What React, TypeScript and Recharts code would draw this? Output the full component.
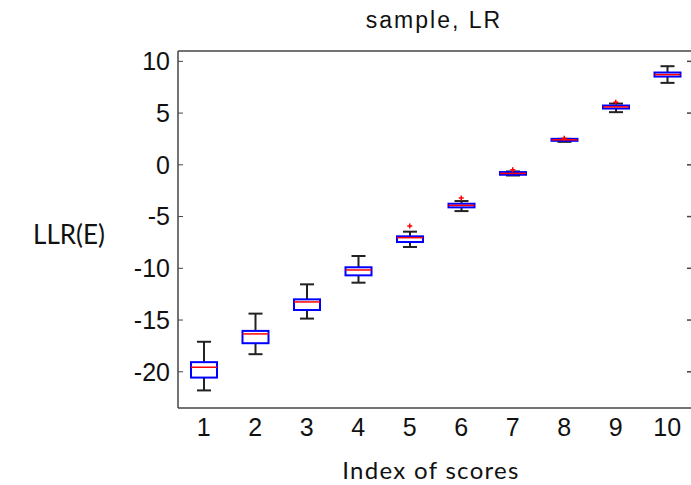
import { Bar, ComposedChart, ReferenceLine, Scatter, XAxis, YAxis } from 'recharts';

// score index on the x axis
const categories = ['1', '2', '3', '4', '5', '6', '7', '8', '9', '10'];

// box plot stats
const whiskerLow = [-21.8, -18.3, -14.86, -11.39, -7.94, -4.47, -1.03, 2.22, 5.09, 7.92];
const q1 = [-20.56, -17.24, -14.03, -10.68, -7.46, -4.11, -0.96, 2.32, 5.44, 8.53];
const median = [-19.56, -16.34, -13.25, -10.16, -7.04, -3.92, -0.83, 2.42, 5.6, 8.72];
const q3 = [-19.07, -16.05, -13.0, -9.9, -6.91, -3.76, -0.7, 2.51, 5.73, 8.92];
const whiskerHigh = [-17.1, -14.38, -11.55, -8.81, -6.46, -3.5, -0.64, 2.51, 5.92, 9.53];
const outliers: (number | null)[] = [null, null, null, null, -5.92, -3.21, -0.48, 2.58, 6.05, null];

const yTicks = [-20, -15, -10, -5, 0, 5, 10];
const Y_DOMAIN: [number, number] = [-23.5, 11];

const rows = categories.map((idx, i) => ({
  idx,
  lo: whiskerLow[i],
  q1: q1[i],
  med: median[i],
  q3: q3[i],
  hi: whiskerHigh[i],
  outlier: outliers[i],
}));

const AXIS = '#444';
const TICK_FONT = { fontFamily: '"Liberation Sans", Arial, sans-serif', fontSize: 25, fill: '#111' };

function BoxShape(props: any) {
  const { x, y, width, height, payload } = props;
  if (!payload) return null;
  const top = Math.min(y, y + height);
  const h = Math.abs(height);
  const span = payload.hi - payload.lo || 1;
  // value -> pixel, using the bar's own [lo, hi] extent
  const py = (v: number) => top + ((payload.hi - v) / span) * h;
  const cx = x + width / 2;
  const cap = 7;
  return (
    <g>
      <line x1={cx} x2={cx} y1={py(payload.hi)} y2={py(payload.q3)} stroke="#222" strokeWidth={2} />
      <line x1={cx} x2={cx} y1={py(payload.q1)} y2={py(payload.lo)} stroke="#222" strokeWidth={2} />
      <line x1={cx - cap} x2={cx + cap} y1={py(payload.hi)} y2={py(payload.hi)} stroke="#222" strokeWidth={2} />
      <line x1={cx - cap} x2={cx + cap} y1={py(payload.lo)} y2={py(payload.lo)} stroke="#222" strokeWidth={2} />
      <rect
        x={x}
        y={py(payload.q3)}
        width={width}
        height={Math.max(py(payload.q1) - py(payload.q3), 1)}
        fill="none"
        stroke="#0000ff"
        strokeWidth={2}
      />
      <line x1={x} x2={x + width} y1={py(payload.med)} y2={py(payload.med)} stroke="#ff0000" strokeWidth={1.5} />
    </g>
  );
}

function PlusShape(props: any) {
  const { cx, cy, payload } = props;
  if (!payload || payload.outlier == null || !Number.isFinite(cy)) return null;
  const s = 2.5;
  return (
    <g stroke="#ff0000" strokeWidth={1.5}>
      <line x1={cx - s} x2={cx + s} y1={cy} y2={cy} />
      <line x1={cx} x2={cx} y1={cy - s} y2={cy + s} />
    </g>
  );
}

const NoLabel = () => <g />;

export default function App() {
  return (
    <div style={{ position: 'fixed', left: 0, top: 0, width: 691, height: 485, overflow: 'hidden', background: '#fff' }}>
      <ComposedChart width={700} height={485} data={rows} margin={{ top: 51, right: 0, bottom: 0, left: 0 }}>
        <XAxis
          dataKey="idx"
          type="category"
          height={77}
          axisLine={{ stroke: AXIS, strokeWidth: 1.5 }}
          tickLine={false}
          tickSize={0}
          tickMargin={10}
          tick={TICK_FONT}
          interval={0}
        />
        <YAxis
          yAxisId="l"
          type="number"
          width={178}
          domain={Y_DOMAIN}
          ticks={yTicks}
          allowDataOverflow
          axisLine={{ stroke: AXIS, strokeWidth: 1.5 }}
          tickLine={{ stroke: AXIS }}
          tickSize={-5}
          tickMargin={13}
          tick={TICK_FONT}
        />
        <YAxis
          yAxisId="r"
          orientation="right"
          type="number"
          width={7}
          domain={Y_DOMAIN}
          ticks={yTicks}
          allowDataOverflow
          axisLine={{ stroke: AXIS, strokeWidth: 1.5 }}
          tickLine={{ stroke: AXIS, strokeWidth: 1.5 }}
          tickSize={-6}
          tick={NoLabel}
        />
        <ReferenceLine yAxisId="l" y={Y_DOMAIN[1]} stroke={AXIS} strokeWidth={1.5} />
        <Bar
          yAxisId="l"
          dataKey={(d: any) => [d.lo, d.hi]}
          barSize={26}
          shape={BoxShape}
          isAnimationActive={false}
        />
        <Scatter yAxisId="r" dataKey="outlier" shape={PlusShape} isAnimationActive={false} />
      </ComposedChart>
      <svg width={691} height={485} style={{ position: 'absolute', left: 0, top: 0, pointerEvents: 'none' }}>
        <text
          x={434}
          y={28}
          textAnchor="middle"
          style={{ fontFamily: '"Liberation Sans", Arial, sans-serif', fontSize: 23, letterSpacing: 2 }}
          fill="#111"
        >
          sample, LR
        </text>
        <text x={69} y={244} textAnchor="middle" style={{ fontFamily: 'Lato, sans-serif', fontSize: 26 }} fill="#111">
          LLR(E)
        </text>
        <text
          x={431}
          y={479}
          textAnchor="middle"
          style={{ fontFamily: 'Lato, sans-serif', fontSize: 24, letterSpacing: 1.3 }}
          fill="#111"
        >
          Index of scores
        </text>
      </svg>
    </div>
  );
}
